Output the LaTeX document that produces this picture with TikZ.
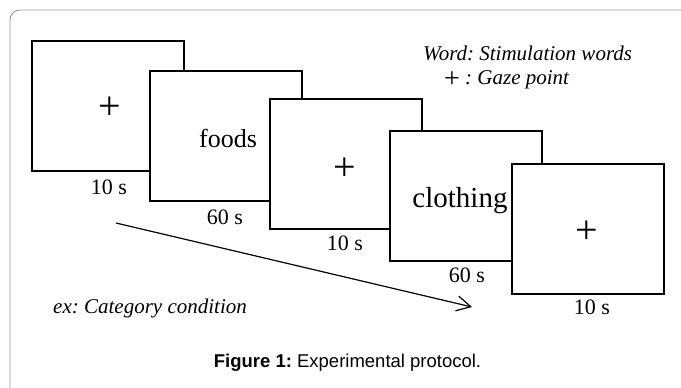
\documentclass[tikz,border=0pt]{standalone}
\usepackage{fontspec}
\setmainfont{Liberation Serif}
\newfontfamily\capfont{Liberation Sans}
\usetikzlibrary{arrows.meta}
\frenchspacing
\tikzset{
  screen/.style={draw=black, line width=1.7pt, fill=white, minimum width=152pt, minimum height=130pt, inner sep=0pt},
  dur/.style={font=\fontsize{22}{22}\selectfont, inner sep=0pt},
  crossmark/.style={font=\fontsize{40}{40}\selectfont, inner sep=0pt},
  legend/.style={font=\fontsize{21}{21}\selectfont\itshape, inner sep=0pt, anchor=west},
  flow/.style={line width=1.2pt, -{Straight Barb[length=14pt, width=15pt, line width=1.2pt]}}
}
\begin{document}
\begin{tikzpicture}[x=1pt, y=-1pt]
\useasboundingbox (0,0) rectangle (681,388);
\draw[color=black!40, line width=0.9pt, rounded corners=10pt] (10,390) -- (10,10) -- (683,10);
\node[screen] (b1) at (108,106) {};
\node[crossmark] (p1) at (110,108) {+};
\node[dur] (l1) at (109,187) {10 s};
\node[screen] (b2) at (226,136) {};
\node[font=\fontsize{26}{26}\selectfont, inner sep=0pt] (w1) at (228,138) {foods};
\node[dur] (l2) at (225,217) {60 s};
\node[screen] (b3) at (346,164) {};
\node[crossmark] (p2) at (345,169) {+};
\node[dur] (l3) at (345,243) {10 s};
\node[screen] (b4) at (466,196) {};
\node[font=\fontsize{29}{29}\selectfont, inner sep=0pt] (w2) at (460,201) {clothing};
\node[dur] (l4) at (467,275) {60 s};
\node[screen] (b5) at (588,229) {};
\node[crossmark] (p3) at (587,232) {+};
\node[dur] (l5) at (592,307) {10 s};
\node[legend] (t1) at (423,53) {Word: Stimulation words};
\node[legend] (t2) at (444,80) {\raisebox{-2.5pt}{\fontsize{28}{28}\selectfont\upshape+} : Gaze point};
\node[legend] (t3) at (53,308) {ex: Category condition};
\coordinate (as) at (116,223);
\coordinate (ae) at (472,307);
\draw[flow] (as) -- (ae);
\node[font=\fontsize{18.5}{18.5}\selectfont\capfont, inner sep=0pt] (cap) at (347.5,363) {\textbf{Figure 1:} Experimental protocol.};
\end{tikzpicture}
\end{document}
